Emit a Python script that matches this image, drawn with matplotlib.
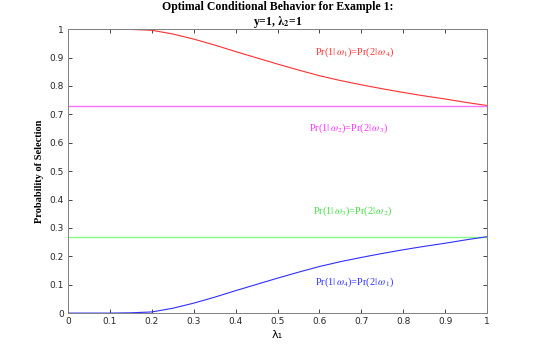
import matplotlib
matplotlib.use('Agg')
from matplotlib import pyplot as plt
import numpy as np

# lambda_1 values and curves
lam1 = [0.0, 0.05, 0.1, 0.15, 0.2, 0.25, 0.3, 0.35, 0.4, 0.45, 0.5,
        0.55, 0.6, 0.65, 0.7, 0.75, 0.8, 0.85, 0.9, 0.95, 1.0]
pr_w1 = [1.0, 1.0, 1.0, 0.999, 0.996, 0.983, 0.965, 0.944, 0.921, 0.899, 0.877,
         0.856, 0.836, 0.819, 0.804, 0.79, 0.777, 0.765, 0.754, 0.742, 0.731]
pr_w4 = [0.0, 0.0, 0.0, 0.001, 0.004, 0.017, 0.035, 0.056, 0.079, 0.101, 0.123,
         0.144, 0.164, 0.181, 0.196, 0.21, 0.223, 0.235, 0.246, 0.258, 0.269]
pr_w2 = 0.731
pr_w3 = 0.269

labels = [r'Pr(1$|\,\omega_1$)=Pr(2$|\,\omega_4$)',
          r'Pr(1$|\,\omega_2$)=Pr(2$|\,\omega_3$)',
          r'Pr(1$|\,\omega_3$)=Pr(2$|\,\omega_2$)',
          r'Pr(1$|\,\omega_4$)=Pr(2$|\,\omega_1$)']

plt.rcParams['mathtext.fontset'] = 'stix'

fig = plt.figure(figsize=(5.38, 3.51), dpi=100)
ax = fig.add_axes([0.1264, 0.108, 0.7788, 0.809])

ax.plot(lam1, pr_w1, color='#ff3030', lw=0.8)
ax.axhline(pr_w2, color='#ff70ff', lw=1.0)
ax.axhline(pr_w3, color='#80ff80', lw=1.0)
ax.plot(lam1, pr_w4, color='#3030ff', lw=0.8)

tf = dict(family='Liberation Serif', fontsize=7.5, ha='center', va='center')
ax.text(0.685, 0.917, labels[0], color='#ff3030', **tf)
ax.text(0.67, 0.652, labels[1], color='#ff30ff', **tf)
ax.text(0.68, 0.36, labels[2], color='#40e040', **tf)
ax.text(0.683, 0.107, labels[3], color='#3030ff', **tf)

ax.set_xlim(0, 1)
ax.set_ylim(0, 1)
ax.set_xticks(np.arange(0, 1.01, 0.1))
ax.set_yticks(np.arange(0, 1.01, 0.1))
ax.set_xticklabels(['0', '0.1', '0.2', '0.3', '0.4', '0.5', '0.6', '0.7', '0.8', '0.9', '1'])
ax.set_yticklabels(['0', '0.1', '0.2', '0.3', '0.4', '0.5', '0.6', '0.7', '0.8', '0.9', '1'])
ax.tick_params(direction='in', top=True, right=True, length=3, width=0.6,
               labelsize=6.5, colors='#262626', pad=3)
for s in ax.spines.values():
    s.set_color('#808080')
    s.set_linewidth(0.7)

ax.set_xlabel('λ₁', fontsize=8, labelpad=3)
ax.set_ylabel('Probability of Selection', family='Liberation Serif',
              fontweight='bold', fontsize=7.5, labelpad=4)
ax.set_title('Optimal Conditional Behavior for Example 1:\n' + r'y=1, $\mathbf{\lambda_2}$=1',
             family='Liberation Serif', fontweight='bold', fontsize=8.5,
             linespacing=1.05, pad=3)

fig.savefig('out.png', dpi=100)
